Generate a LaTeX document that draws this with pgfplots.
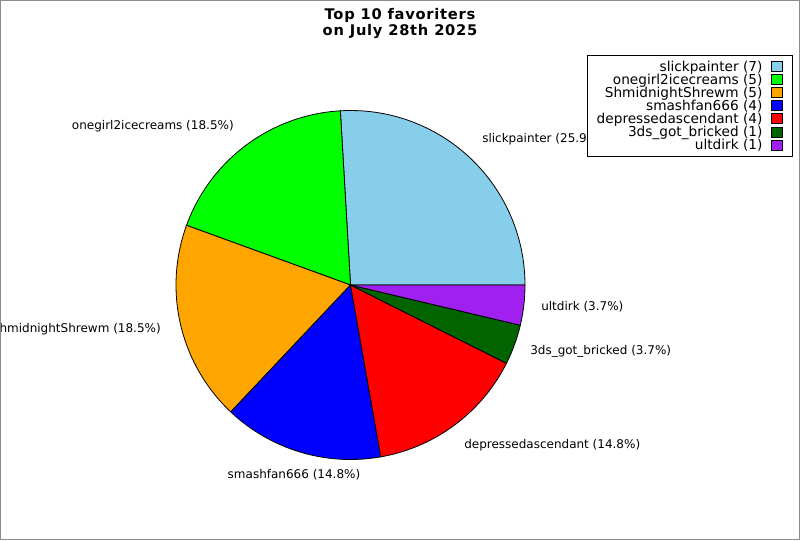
\documentclass[border=0pt]{standalone}
\usepackage{pgfplots}
\pgfplotsset{compat=1.18}
\usepackage{fontspec}
\setmainfont{DejaVu Sans}
\newfontfamily\legfont{DejaVu Sans}
\newfontfamily\titlefont[LetterSpace=5]{DejaVu Sans Bold}
\definecolor{cSlick}{HTML}{87CEEB}
\definecolor{cOne}{HTML}{00FF00}
\definecolor{cShm}{HTML}{FFA500}
\definecolor{cSmash}{HTML}{0000FF}
\definecolor{cDep}{HTML}{FF0000}
\definecolor{cThree}{HTML}{006400}
\definecolor{cUlt}{HTML}{A020F0}
\definecolor{frame}{HTML}{8C8C8C}
% values: slickpainter 7, onegirl2icecreams 5, ShmidnightShrewm 5, smashfan666 4,
% depressedascendant 4, 3ds_got_bricked 1, ultdirk 1  (total 27)
\begin{document}
\begin{tikzpicture}
\begin{axis}[
  name=ax,
  scale only axis, width=600pt, height=405pt,
  xmin=0, xmax=800, ymin=0, ymax=540,
  hide axis, clip=false,
  legend style={at={(axis cs:793,485)}, anchor=north east, draw=black, line width=0.6pt,
    fill=white, font=\legfont\fontsize{10.25}{11}\selectfont,
    inner xsep=7.2pt, inner ysep=3.5pt, column sep=6.6pt,
    nodes={inner xsep=0pt, inner ysep=0.5pt, text height=7.8pt, text depth=1.0pt}},
  legend cell align=right,
  legend plot pos=right,
  legend image code/.code={\filldraw[#1, draw=black, line width=0.6pt] (0pt,-3.75pt) rectangle (8.25pt,3.75pt);},
]
\def\R{174.5}
\addplot[fill=cSlick, draw=black, line width=0.6pt, domain={0}:{360*7/27}, samples=80, variable=\t]
  ({350.5+\R*cos(\t)},{255+\R*sin(\t)}) -- (axis cs:350.5,255) -- cycle;
\addlegendentry{slickpainter (7)}
\addplot[fill=cOne, draw=black, line width=0.6pt, domain={360*7/27}:{360*12/27}, samples=60, variable=\t]
  ({350.5+\R*cos(\t)},{255+\R*sin(\t)}) -- (axis cs:350.5,255) -- cycle;
\addlegendentry{onegirl2icecreams (5)}
\addplot[fill=cShm, draw=black, line width=0.6pt, domain={360*12/27}:{360*17/27}, samples=60, variable=\t]
  ({350.5+\R*cos(\t)},{255+\R*sin(\t)}) -- (axis cs:350.5,255) -- cycle;
\addlegendentry{ShmidnightShrewm (5)}
\addplot[fill=cSmash, draw=black, line width=0.6pt, domain={360*17/27}:{360*21/27}, samples=50, variable=\t]
  ({350.5+\R*cos(\t)},{255+\R*sin(\t)}) -- (axis cs:350.5,255) -- cycle;
\addlegendentry{smashfan666 (4)}
\addplot[fill=cDep, draw=black, line width=0.6pt, domain={360*21/27}:{360*25/27}, samples=50, variable=\t]
  ({350.5+\R*cos(\t)},{255+\R*sin(\t)}) -- (axis cs:350.5,255) -- cycle;
\addlegendentry{depressedascendant (4)}
\addplot[fill=cThree, draw=black, line width=0.6pt, domain={360*25/27}:{360*26/27}, samples=20, variable=\t]
  ({350.5+\R*cos(\t)},{255+\R*sin(\t)}) -- (axis cs:350.5,255) -- cycle;
\addlegendentry{3ds\_got\_bricked (1)}
\addplot[fill=cUlt, draw=black, line width=0.6pt, domain={360*26/27}:{360}, samples=20, variable=\t]
  ({350.5+\R*cos(\t)},{255+\R*sin(\t)}) -- (axis cs:350.5,255) -- cycle;
\addlegendentry{ultdirk (1)}

\begin{scope}[font=\fontsize{9}{10}\selectfont, inner sep=0pt]
\node[anchor=west] at (axis cs:482,401) {slickpainter (25.9\%)};
\node[anchor=east] at (axis cs:234,414) {onegirl2icecreams (18.5\%)};
\node[anchor=east] at (axis cs:161,211) {ShmidnightShrewm (18.5\%)};
\node[anchor=center] at (axis cs:294,65) {smashfan666 (14.8\%)};
\node[anchor=west] at (axis cs:464,95) {depressedascendant (14.8\%)};
\node[anchor=west] at (axis cs:530,189) {3ds\_got\_bricked (3.7\%)};
\node[anchor=west] at (axis cs:541,233) {ultdirk (3.7\%)};
\end{scope}
\node[align=center, font=\titlefont\fontsize{11}{11.6}\selectfont] at (axis cs:400,516.5) {Top 10 favoriters\\on July 28th 2025};
\draw[frame, line width=1.1pt] (axis cs:0.6,0.6) rectangle (axis cs:799.4,539.4);
\end{axis}
\pgfresetboundingbox
\useasboundingbox (ax.south west) rectangle (ax.north east);
\end{tikzpicture}
\end{document}
